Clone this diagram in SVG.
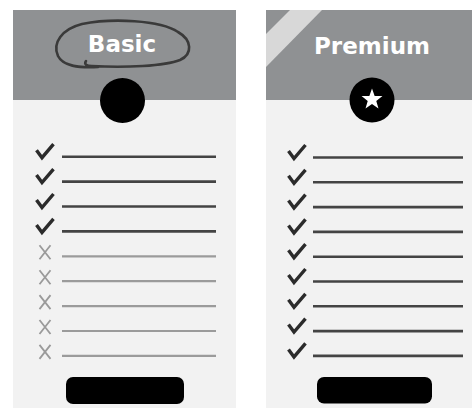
<svg xmlns="http://www.w3.org/2000/svg" xmlns:xlink="http://www.w3.org/1999/xlink" width="472" height="408" viewBox="0 0 472 408">
<style>
.body{fill:#f2f2f2}
.head{fill:#8f9193}
.title{font-family:"DejaVu Sans",sans-serif;font-weight:bold;font-size:23px;fill:#ffffff;text-anchor:middle}
.on{stroke:#444444;stroke-width:2.6;fill:none}
.off{stroke:#9b9b9b;stroke-width:2.2;fill:none}
.chk{stroke:#2b2b2b;stroke-width:3.4;fill:none;stroke-linejoin:miter;stroke-linecap:butt}
.xm{stroke:#9a9a9a;stroke-width:1.8;fill:none}
.btn{fill:#000000}
</style>
<defs>
<path id="check" d="M-5.5,-6.5 L0,1 L11.5,-12.5"/>
<path id="cross" d="M-5.5,-11 L5.5,3 M5.5,-11 L-5.5,3"/>
</defs>
<rect width="472" height="408" fill="#ffffff"/>
<g id="basic">
<rect class="body" x="13" y="10" width="223" height="398"/>
<rect class="head" x="13" y="10" width="223" height="90"/>
<text class="title" x="122" y="52">Basic</text>
<path d="M86,61 C84,64 86,66 92,66 C125,68 165,66 180,60 C193,54 192,40 178,32 C160,20 112,18 82,24 C62,29 52,43 58,56 C63,66 78,68 98,67" fill="none" stroke="#3a3a3a" stroke-width="2.6" stroke-linecap="round"/>
<circle cx="122.5" cy="100.5" r="22.5" fill="#000000"/>
<g class="chk">
<use xlink:href="#check" x="42" y="156.7"/>
<use xlink:href="#check" x="42" y="181.6"/>
<use xlink:href="#check" x="42" y="206.5"/>
<use xlink:href="#check" x="42" y="231.4"/>
</g>
<g class="xm">
<use xlink:href="#cross" x="45" y="256.3"/>
<use xlink:href="#cross" x="45" y="281.2"/>
<use xlink:href="#cross" x="45" y="306.1"/>
<use xlink:href="#cross" x="45" y="331"/>
<use xlink:href="#cross" x="45" y="355.9"/>
</g>
<g class="on">
<line x1="62" y1="156.7" x2="216" y2="156.7"/>
<line x1="62" y1="181.6" x2="216" y2="181.6"/>
<line x1="62" y1="206.5" x2="216" y2="206.5"/>
<line x1="62" y1="231.4" x2="216" y2="231.4"/>
</g>
<g class="off">
<line x1="62" y1="256.3" x2="216" y2="256.3"/>
<line x1="62" y1="281.2" x2="216" y2="281.2"/>
<line x1="62" y1="306.1" x2="216" y2="306.1"/>
<line x1="62" y1="331" x2="216" y2="331"/>
<line x1="62" y1="355.9" x2="216" y2="355.9"/>
</g>
<rect class="btn" x="66" y="377" width="118" height="27" rx="7"/>
</g>
<g id="premium">
<rect class="body" x="266" y="10" width="206" height="398"/>
<rect class="head" x="266" y="10" width="206" height="90"/>
<polygon points="290,10 322,10 266,67 266,34" fill="#d8d8d8"/>
<text class="title" x="372" y="54">Premium</text>
<circle cx="372" cy="100" r="22.5" fill="#000000"/>
<polygon points="372,88.5 374.65,95.9 382.46,96.1 376.28,100.9 378.47,108.4 372,104 365.53,108.4 367.72,100.9 361.54,96.1 369.35,95.9" fill="#ffffff"/>
<g class="chk">
<use xlink:href="#check" x="294" y="157.5"/>
<use xlink:href="#check" x="294" y="182.3"/>
<use xlink:href="#check" x="294" y="207.1"/>
<use xlink:href="#check" x="294" y="231.9"/>
<use xlink:href="#check" x="294" y="256.7"/>
<use xlink:href="#check" x="294" y="281.5"/>
<use xlink:href="#check" x="294" y="306.3"/>
<use xlink:href="#check" x="294" y="331.1"/>
<use xlink:href="#check" x="294" y="355.9"/>
</g>
<g class="on">
<line x1="313" y1="157.5" x2="463" y2="157.5"/>
<line x1="313" y1="182.3" x2="463" y2="182.3"/>
<line x1="313" y1="207.1" x2="463" y2="207.1"/>
<line x1="313" y1="231.9" x2="463" y2="231.9"/>
<line x1="313" y1="256.7" x2="463" y2="256.7"/>
<line x1="313" y1="281.5" x2="463" y2="281.5"/>
<line x1="313" y1="306.3" x2="463" y2="306.3"/>
<line x1="313" y1="331.1" x2="463" y2="331.1"/>
<line x1="313" y1="355.9" x2="463" y2="355.9"/>
</g>
<rect class="btn" x="317" y="377" width="115" height="26.5" rx="7"/>
</g>
</svg>
